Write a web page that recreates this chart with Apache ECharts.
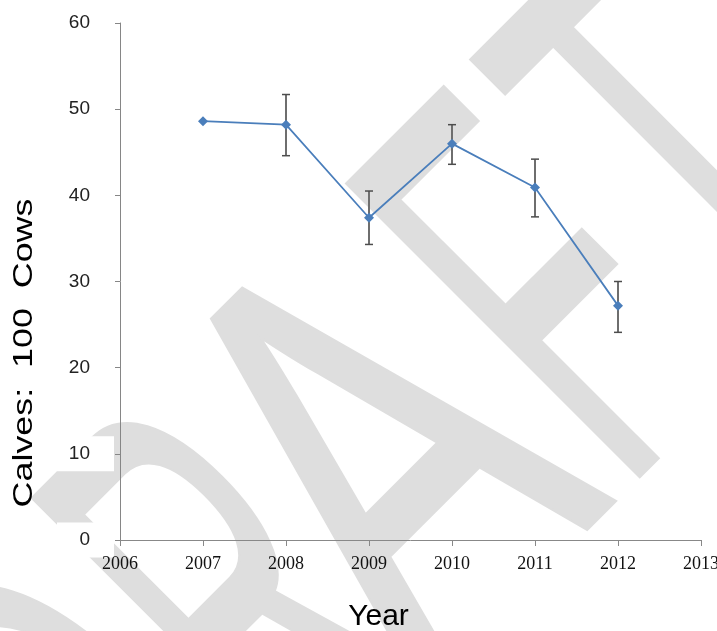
<!DOCTYPE html>
<html>
<head>
<meta charset="utf-8">
<title>Calves per 100 cows</title>
<script src="https://cdn.jsdelivr.net/npm/echarts@6/dist/echarts.min.js"></script>
<style>
  html, body { margin: 0; padding: 0; background: #ffffff; }
  #chart { width: 717px; height: 631px; }
</style>
</head>
<body>
<div id="chart"></div>
<script>
// Survey results: calf:cow ratio by year, with error bars
const years   = [2007, 2008, 2009, 2010, 2011, 2012];
const calves  = [48.6, 48.2, 37.4, 46.0, 40.9, 27.2];
const errLow  = [null, 44.6, 34.3, 43.6, 37.5, 24.1];
const errHigh = [null, 51.7, 40.5, 48.2, 44.2, 30.0];

// Axis ranges
const xMin = 2006, xMax = 2013, xStep = 1;
const yMin = 0, yMax = 60, yStep = 10;

const xTitle = 'Year';
const yTitle = 'Calves:  100  Cows';

const lineData = years.map((y, i) => [y, calves[i]]);
const errData = years
  .map((y, i) => [y, errLow[i], errHigh[i]])
  .filter(d => d[1] !== null && d[2] !== null);

// "DRAFT" watermark, laid out along a 45° baseline.
// s = distance along the baseline, t = distance across it.
function draftWatermark() {
  const letters = [
    { ch: 'D', s: -472, sx: 0.48 },
    { ch: 'R', s: -256, sx: 0.44 },
    { ch: 'A', s: -55,  sx: 0.68 },
    { ch: 'F', s: 178,  sx: 0.47 },
    { ch: 'T', s: 372,  sx: 0.48 }
  ];
  const t = 623;
  const r = Math.SQRT2;
  return letters.map(l => ({
    type: 'text',
    silent: true,
    z: -10,
    x: (l.s + t) / r,
    y: (t - l.s) / r,
    rotation: Math.PI / 4,
    scaleX: l.sx,
    scaleY: 1,
    style: {
      text: l.ch,
      font: '598px "Liberation Sans", Arial, sans-serif',
      fill: '#dedede',
      stroke: '#dedede',
      lineWidth: 6,
      lineJoin: 'round',
      textAlign: 'center',
      textVerticalAlign: 'middle'
    }
  }));
}

// Vertical axis title, set in a wide face along its length
function yAxisTitle() {
  return {
    type: 'text',
    silent: true,
    z: 5,
    x: 24,
    y: 353,
    rotation: Math.PI / 2,
    scaleX: 1.28,
    style: {
      text: yTitle,
      font: '28px "Liberation Sans", Arial, sans-serif',
      fill: '#000000',
      textAlign: 'center',
      textVerticalAlign: 'middle'
    }
  };
}

const chart = echarts.init(document.getElementById('chart'), null, { renderer: 'canvas' });

chart.setOption({
  animation: false,
  backgroundColor: '#ffffff',
  graphic: { elements: draftWatermark().concat([yAxisTitle()]) },
  grid: {
    left: 120, right: 16, top: 23, bottom: 91,
    containLabel: false,
    outerBoundsMode: 'none'
  },
  xAxis: {
    type: 'value',
    min: xMin, max: xMax, interval: xStep,
    name: xTitle,
    nameLocation: 'middle',
    nameGap: 62,
    nameTextStyle: {
      fontFamily: '"Liberation Sans", Arial, sans-serif',
      fontSize: 30, color: '#000000',
      padding: [0, 64, 0, 0]
    },
    axisLine: { show: true, lineStyle: { color: '#888888', width: 1 } },
    axisTick: { show: true, length: 6, lineStyle: { color: '#888888' } },
    splitLine: { show: false },
    axisLabel: {
      margin: 15,
      formatter: v => String(v),
      fontFamily: '"Liberation Serif", "Times New Roman", serif',
      fontSize: 18, color: '#111111'
    }
  },
  yAxis: {
    type: 'value',
    min: yMin, max: yMax, interval: yStep,
    axisLine: { show: true, lineStyle: { color: '#868686', width: 1 } },
    axisTick: { show: true, length: 5, lineStyle: { color: '#868686' } },
    splitLine: { show: false },
    axisLabel: {
      margin: 6,
      width: 33,
      align: 'right',
      backgroundColor: '#ffffff',
      padding: [10, 24, 6, 0],
      fontFamily: '"Liberation Sans", Arial, sans-serif',
      fontSize: 19, color: '#222222'
    }
  },
  series: [
    {
      type: 'custom',
      name: 'error',
      z: 2,
      data: errData,
      renderItem: (params, api) => {
        const x = api.value(0);
        const lo = api.coord([x, api.value(1)]);
        const hi = api.coord([x, api.value(2)]);
        const cap = 4;
        const style = { stroke: '#4d4d4d', lineWidth: 1.5 };
        return {
          type: 'group',
          children: [
            { type: 'line', shape: { x1: lo[0], y1: lo[1], x2: hi[0], y2: hi[1] }, style: { stroke: '#6e6e6e', lineWidth: 2 } },
            { type: 'line', shape: { x1: hi[0] - cap, y1: hi[1], x2: hi[0] + cap, y2: hi[1] }, style },
            { type: 'line', shape: { x1: lo[0] - cap, y1: lo[1], x2: lo[0] + cap, y2: lo[1] }, style }
          ]
        };
      }
    },
    {
      type: 'line',
      name: 'Calves per 100 cows',
      z: 3,
      data: lineData,
      symbol: 'diamond',
      symbolSize: 10,
      lineStyle: { color: '#4a7ebb', width: 1.75 },
      itemStyle: { color: '#4a7ebb' }
    }
  ]
});
</script>
</body>
</html>
